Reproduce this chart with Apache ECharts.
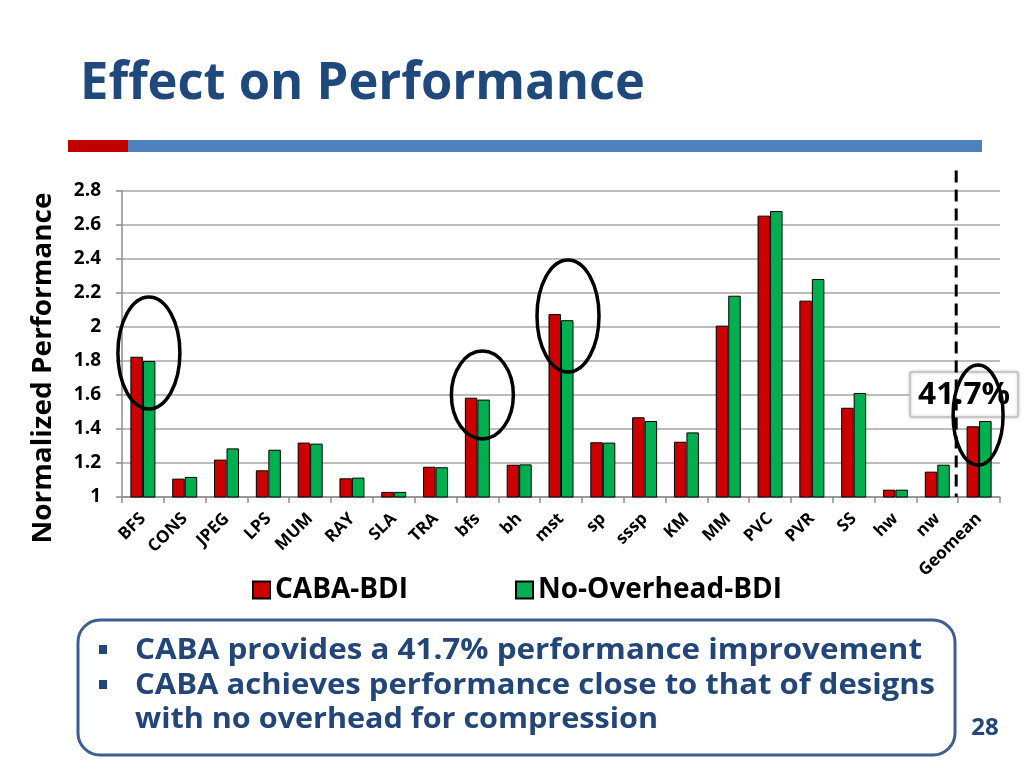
<!DOCTYPE html>
<html>
<head>
<meta charset="utf-8">
<script src="https://cdn.jsdelivr.net/npm/echarts@6/dist/echarts.min.js"></script>
<style>
html,body{margin:0;padding:0;background:#fff;}
#c{width:1024px;height:768px;}
</style>
</head>
<body>
<div id="c"></div>
<script>
const categories = ['BFS','CONS','JPEG','LPS','MUM','RAY','SLA','TRA','bfs','bh','mst','sp','sssp','KM','MM','PVC','PVR','SS','hw','nw','Geomean'];
const cabaBDI = [1.825,1.108,1.22,1.157,1.32,1.11,1.03,1.178,1.584,1.19,2.076,1.322,1.469,1.325,2.008,2.655,2.155,1.525,1.043,1.149,1.416];
const noOverheadBDI = [1.80,1.118,1.286,1.278,1.314,1.114,1.03,1.175,1.573,1.192,2.04,1.32,1.447,1.38,2.184,2.682,2.282,1.612,1.043,1.19,1.447];
const yTicks = [1,1.2,1.4,1.6,1.8,2,2.2,2.4,2.6,2.8];
const improvementLabel = '41.7%';
const highlighted = [
  {cat:'BFS', value:1.847, dx:6, rx:31, ry:56},
  {cat:'bfs', value:1.60, dx:5, rx:31, ry:44},
  {cat:'mst', value:2.065, dx:7, rx:31, ry:56},
  {cat:'Geomean', value:1.482, dx:-1, rx:25, ry:50}
];

const FONT = 'Open Sans';
const chart = echarts.init(document.getElementById('c'));
const option = {
  backgroundColor:'#fff',
  animation:false,
  grid:{left:122, right:24, top:191, bottom:271},
  legend:[
    {left:247, top:571, icon:'rect', itemWidth:17, itemHeight:17, itemGap:8,
     textStyle:{fontFamily:FONT, fontWeight:'bold', fontSize:28, color:'#000'}, data:['CABA-BDI']},
    {left:510, top:571, icon:'rect', itemWidth:17, itemHeight:17, itemGap:8,
     textStyle:{fontFamily:FONT, fontWeight:'bold', fontSize:28, color:'#000'}, data:['No-Overhead-BDI']}
  ],
  xAxis:{
    type:'category', data:categories,
    axisLine:{lineStyle:{color:'#8c8c8c', width:1.5}},
    axisTick:{show:true, length:6, lineStyle:{color:'#8c8c8c', width:1.5}},
    axisLabel:{rotate:45, margin:19, fontFamily:FONT, fontWeight:'bold', fontSize:17, color:'#000', interval:0}
  },
  yAxis:{
    type:'value', min:1, max:2.8, interval:0.2,
    axisLine:{show:true, lineStyle:{color:'#8c8c8c', width:1.5}},
    axisTick:{show:true, length:6, lineStyle:{color:'#8c8c8c', width:1.5}},
    splitLine:{lineStyle:{color:'#a6a6a6', width:1.5}},
    axisLabel:{margin:21, fontFamily:FONT, fontWeight:'bold', fontSize:19, color:'#000',
      formatter:v=>{ const t=yTicks.find(x=>Math.abs(x-v)<1e-6); return t===undefined?'':String(t); }}
  },
  series:[
    {name:'CABA-BDI', type:'bar', data:cabaBDI, barWidth:12.5, barGap:'0%',
      itemStyle:{color:'#CC0000', borderColor:'#000', borderWidth:1}},
    {name:'No-Overhead-BDI', type:'bar', data:noOverheadBDI, barWidth:12.5, barGap:'0%',
      itemStyle:{color:'#00B050', borderColor:'#000', borderWidth:1}}
  ]
};
chart.setOption(option);

function px(cat, val){ return chart.convertToPixel({xAxisIndex:0, yAxisIndex:0}, [cat, val]); }
const mctx = document.createElement('canvas').getContext('2d');
function fitScale(text, size, target){
  mctx.font = 'bold ' + size + 'px "' + FONT + '"';
  const w = mctx.measureText(text).width;
  return w > 0 ? target / w : 1;
}

const g = [];
const titleText = 'Effect on Performance';
g.push({type:'text', x:80, y:84, scaleX:fitScale(titleText, 52, 565),
  style:{text:titleText, fontFamily:FONT, fontWeight:'bold', fontSize:52, fill:'#1F497D', verticalAlign:'middle'}});
g.push({type:'rect', shape:{x:68, y:140, width:60, height:12}, style:{fill:'#C00000'}});
g.push({type:'rect', shape:{x:128, y:140, width:854, height:12}, style:{fill:'#4F81BD'}});
const yName = 'Normalized Performance';
g.push({type:'text', x:44, y:368, rotation:Math.PI/2, scaleX:fitScale(yName, 26, 351),
  style:{text:yName, fontFamily:FONT, fontWeight:'bold', fontSize:26, fill:'#000', align:'center', verticalAlign:'middle'}});
const pNw = px('nw', 1), pGeo = px('Geomean', 1), pTop = px('nw', 2.92);
const sepX = (pNw[0] + pGeo[0]) / 2 - 2;
g.push({type:'line', z:10, shape:{x1:sepX, y1:pTop[1], x2:sepX, y2:pNw[1]}, style:{stroke:'#000', lineWidth:3, lineDash:[12,7]}});
highlighted.forEach(h=>{
  const p = px(h.cat, h.value);
  g.push({type:'ellipse', z:11, shape:{cx:p[0]+h.dx, cy:p[1], rx:h.rx, ry:h.ry}, style:{fill:null, stroke:'#000', lineWidth:3.5}});
});
const pl = px('Geomean', 1.606);
g.push({type:'group', z:20, x:pl[0]-15, y:pl[1], children:[
  {type:'rect', shape:{x:-54, y:-22, width:108, height:45, r:2}, style:{fill:'#fff', stroke:'#c8c8c8', lineWidth:2, shadowBlur:3, shadowColor:'rgba(0,0,0,0.2)'}},
  {type:'text', x:0, y:1, scaleX:fitScale(improvementLabel, 30, 92), style:{text:improvementLabel, fontFamily:FONT, fontWeight:'bold', fontSize:30, fill:'#000', align:'center', verticalAlign:'middle'}}
]});
g.push({type:'rect', shape:{x:78, y:620, width:877, height:135, r:22}, style:{fill:null, stroke:'#3C5F8F', lineWidth:3}});
const bulletColor = '#22467A';
g.push({type:'rect', shape:{x:99, y:645, width:8, height:9}, style:{fill:bulletColor}});
g.push({type:'rect', shape:{x:99, y:680, width:8, height:9}, style:{fill:bulletColor}});
const lines = [
  ['CABA provides a 41.7% performance improvement', 651, 787],
  ['CABA achieves performance close to that of designs', 686, 800],
  ['with no overhead for compression', 720, 523]
];
lines.forEach(l=>{
  g.push({type:'text', x:135, y:l[1], scaleX:fitScale(l[0], 28, l[2]),
    style:{text:l[0], fontFamily:FONT, fontWeight:'bold', fontSize:28, fill:bulletColor, verticalAlign:'middle'}});
});
g.push({type:'text', x:985, y:728, style:{text:'28', fontFamily:FONT, fontWeight:'bold', fontSize:24, fill:bulletColor, align:'center', verticalAlign:'middle'}});
chart.setOption({graphic:g});
</script>
</body>
</html>
